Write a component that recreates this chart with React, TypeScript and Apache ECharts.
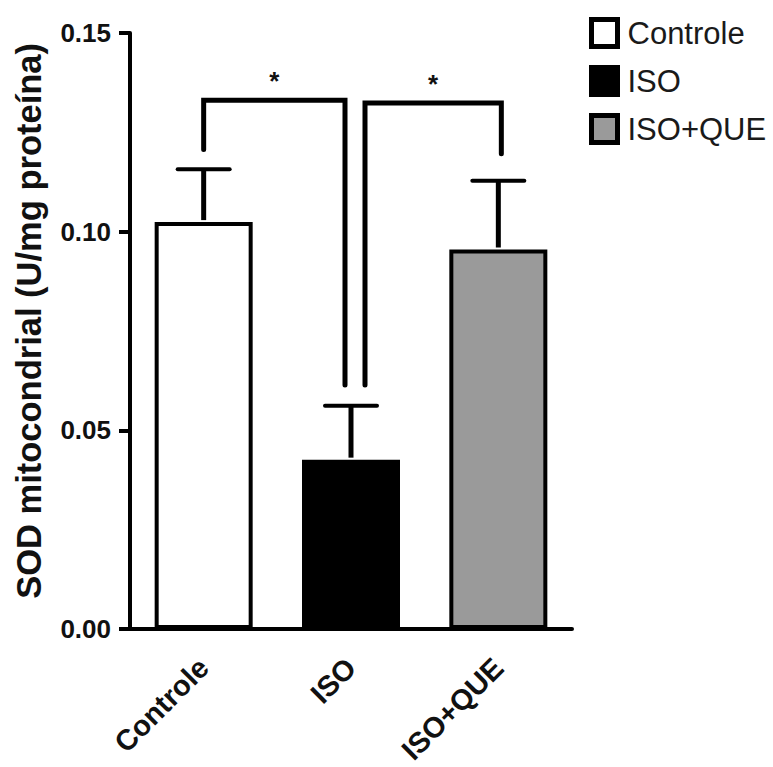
import React, { useEffect, useRef } from "react";
import * as echarts from "echarts";

const categories = ["Controle", "ISO", "ISO+QUE"];
const meanValues = [0.1024, 0.0426, 0.0955];
const errorTops = [0.1157, 0.0562, 0.1128];
const yTicks = [0.0, 0.05, 0.1, 0.15];
// significance brackets: [fromIndex, toIndex, topValue, leftEndValue, rightEndValue]
const bracketFrom = [0, 1];
const bracketTo = [1, 2];
const bracketTop = [0.1331, 0.1324];
const bracketLeftEnd = [0.1207, 0.0614];
const bracketRightEnd = [0.0614, 0.1196];
const bracketLabels = ["*", "*"];

const FONT = "'Liberation Sans', Arial, Helvetica, sans-serif";
const fills = ["#ffffff", "#000000", "#9a9a9a"];

export default function App() {
  const ref = useRef<HTMLDivElement>(null);
  useEffect(() => {
    if (!ref.current) return;
    const chart = echarts.init(ref.current, null, { renderer: "svg" });

    const barSeries = categories.map((name, i) => ({
      name,
      type: "bar",
      barWidth: 98,
      barGap: "-100%",
      data: categories.map((_, j) => (j === i ? meanValues[j] : "-")),
      itemStyle: { color: fills[i], borderColor: "#000", borderWidth: 4 },
      z: 2,
    }));

    const legOffsets = [
      [0, -6],
      [14, 3],
    ];

    const option: any = {
      animation: false,
      backgroundColor: "#fff",
      grid: { left: 130, right: 201, top: 33, bottom: 137.5, containLabel: false },
      legend: {
        left: 589,
        top: 17,
        padding: 0,
        orient: "vertical",
        icon: "rect",
        itemWidth: 26,
        itemHeight: 27,
        itemGap: 16,
        data: categories,
        itemStyle: { borderColor: "#000", borderWidth: 5 },
        textStyle: { fontFamily: FONT, fontSize: 31, lineHeight: 31, color: "#1a1a1a", padding: [0, 0, 0, 5] },
        selectedMode: false,
      },
      xAxis: {
        type: "category",
        data: categories,
        axisLine: { lineStyle: { color: "#000", width: 4 } },
        axisTick: { alignWithLabel: true, length: 11, lineStyle: { color: "#000", width: 4 } },
        axisLabel: {
          rotate: 45,
          margin: 34,
          fontFamily: FONT,
          fontWeight: "bold",
          fontSize: 29,
          color: "#111",
        },
      },
      yAxis: {
        type: "value",
        min: 0,
        max: 0.15,
        interval: 0.05,
        name: "SOD mitocondrial (U/mg proteína)",
        nameLocation: "middle",
        nameGap: 84,
        nameTextStyle: { fontFamily: FONT, fontWeight: "bold", fontSize: 34.5, color: "#111", padding: [0, 0, 0, 20] },
        splitLine: { show: false },
        axisLine: { show: true, lineStyle: { color: "#000", width: 4 } },
        axisTick: { show: true, length: 11, lineStyle: { color: "#000", width: 4 } },
        axisLabel: {
          margin: 19,
          fontFamily: FONT,
          fontWeight: "bold",
          fontSize: 26,
          color: "#111",
          formatter: (v: number) => (yTicks.some((t) => Math.abs(t - v) < 1e-9) ? v.toFixed(2) : ""),
        },
      },
      series: [
        ...barSeries,
        {
          type: "custom",
          name: "error",
          data: categories.map((_, i) => [i, meanValues[i], errorTops[i]]),
          z: 3,
          renderItem: (params: any, api: any) => {
            const x = api.value(0);
            const base = api.coord([x, api.value(1)]);
            const top = api.coord([x, api.value(2)]);
            const capHalf = 26;
            const style = { stroke: "#000", lineWidth: 5 };
            return {
              type: "group",
              children: [
                { type: "line", shape: { x1: base[0], y1: base[1] - 2, x2: top[0], y2: top[1] }, style },
                { type: "line", shape: { x1: top[0] - capHalf, y1: top[1], x2: top[0] + capHalf, y2: top[1] }, style: { stroke: "#000", lineWidth: 4, lineCap: "round" } },
              ],
            };
          },
        },
        {
          type: "custom",
          name: "brackets",
          data: bracketFrom.map((f, i) => [f, bracketTo[i], bracketTop[i], bracketLeftEnd[i], bracketRightEnd[i], i]),
          z: 4,
          renderItem: (params: any, api: any) => {
            const k = api.value(5);
            const pTopL = api.coord([api.value(0), api.value(2)]);
            const pTopR = api.coord([api.value(1), api.value(2)]);
            const pL = api.coord([api.value(0), api.value(3)]);
            const pR = api.coord([api.value(1), api.value(4)]);
            const xl = pTopL[0] + legOffsets[k][0];
            const xr = pTopR[0] + legOffsets[k][1];
            const yt = pTopL[1];
            return {
              type: "group",
              children: [
                {
                  type: "polyline",
                  shape: { points: [[xl, pL[1]], [xl, yt], [xr, yt], [xr, pR[1]]] },
                  style: { stroke: "#000", lineWidth: 5, fill: null, lineJoin: "miter", lineCap: "round" },
                },
                {
                  type: "text",
                  x: (xl + xr) / 2,
                  y: yt - 6,
                  style: {
                    text: bracketLabels[k],
                    fontFamily: FONT,
                    fontWeight: "bold",
                    fontSize: 26,
                    fill: "#111",
                    align: "center",
                    verticalAlign: "bottom",
                  },
                },
              ],
            };
          },
        },
      ],
    };
    chart.setOption(option);
    return () => chart.dispose();
  }, []);
  return <div ref={ref} style={{ width: 773, height: 767, position: "absolute", left: 0, top: 0 }} />;
}
